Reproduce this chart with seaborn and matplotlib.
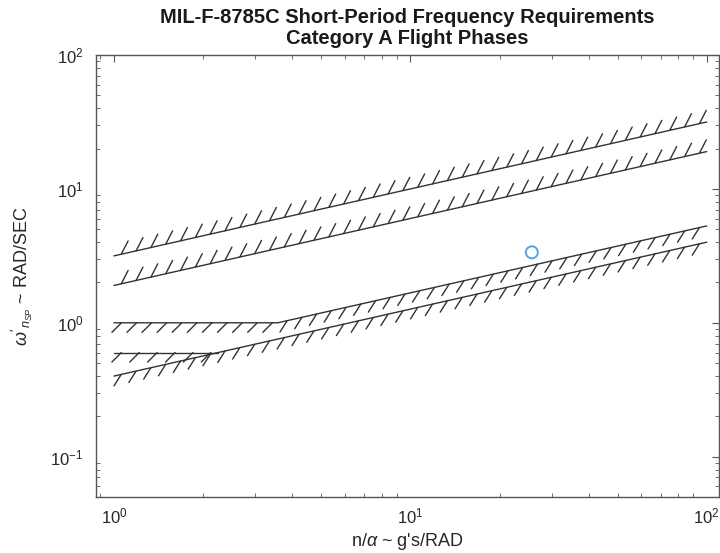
import matplotlib
matplotlib.use('Agg')
import matplotlib.pyplot as plt
import matplotlib.patheffects as pe
import seaborn as sns

# boundary lines (n/alpha, omega_n)
lvl2_upper_x = [1.0, 100.0]
lvl2_upper_y = [3.16, 31.6]
lvl1_upper_x = [1.0, 100.0]
lvl1_upper_y = [1.90, 19.0]
lvl1_lower_x = [1.0, 3.57, 100.0]
lvl1_lower_y = [1.0, 1.0, 5.29]
lvl2_flat_x = [1.0, 2.25]
lvl2_flat_y = [0.6, 0.6]
lvl2_lower_x = [1.0, 100.0]
lvl2_lower_y = [0.4, 4.0]

# design point
point_x = [25.7]
point_y = [3.36]

sns.set_style('white')
plt.rcParams['font.family'] = ['Liberation Sans', 'DejaVu Sans']
plt.rcParams['mathtext.fontset'] = 'custom'
plt.rcParams['mathtext.rm'] = 'Liberation Sans'
plt.rcParams['mathtext.it'] = 'Liberation Sans:italic'

fig, ax = plt.subplots(figsize=(7.2, 5.53), dpi=100)
fig.subplots_adjust(left=96 / 720, right=719 / 720, top=1 - 55 / 553, bottom=1 - 497 / 553)

line_col = '#333333'
up_fx = [pe.withTickedStroke(spacing=10.8, angle=50, length=1.0)]
lo_fx = [pe.withTickedStroke(spacing=10.8, angle=-135, length=0.9)]

for xs, ys, fx in [(lvl2_upper_x, lvl2_upper_y, up_fx),
                   (lvl1_upper_x, lvl1_upper_y, up_fx),
                   (lvl1_lower_x, lvl1_lower_y, lo_fx),
                   (lvl2_flat_x, lvl2_flat_y, lo_fx),
                   (lvl2_lower_x, lvl2_lower_y, lo_fx)]:
    sns.lineplot(x=xs, y=ys, ax=ax, color=line_col, lw=1.0, sort=False,
                 estimator=None, path_effects=fx)

sns.scatterplot(x=point_x, y=point_y, ax=ax, marker='o', s=75,
                facecolor='none', edgecolor='#58a2e3', linewidth=1.4, zorder=5)

ax.set_xscale('log')
ax.set_yscale('log')
ax.set_xlim(0.87, 110)
ax.set_ylim(0.05, 100)

for s in ax.spines.values():
    s.set_color('#555555')
    s.set_linewidth(1.0)
ax.tick_params(which='both', direction='in', top=True, right=True,
               colors='#555555', labelcolor='#262626', labelsize=12)
ax.tick_params(which='major', length=5)
ax.tick_params(which='minor', length=3, bottom=True, left=True)
ax.tick_params(axis='x', pad=7)
ax.tick_params(axis='y', pad=9)

ax.set_title('MIL-F-8785C Short-Period Frequency Requirements\nCategory A Flight Phases',
             fontsize=14.5, fontweight='bold', color='#1a1a1a', pad=8, linespacing=1.1)
ax.set_xlabel(r"n/$\alpha$ ~ g's/RAD", fontsize=13, color='#262626', labelpad=3)
ax.set_ylabel(r"$\omega'_{n_{SP}}$ ~ RAD/SEC", fontsize=13, color='#262626')
ax.yaxis.set_label_coords(-0.098, 0.5)

plt.savefig('out.png', dpi=100)
